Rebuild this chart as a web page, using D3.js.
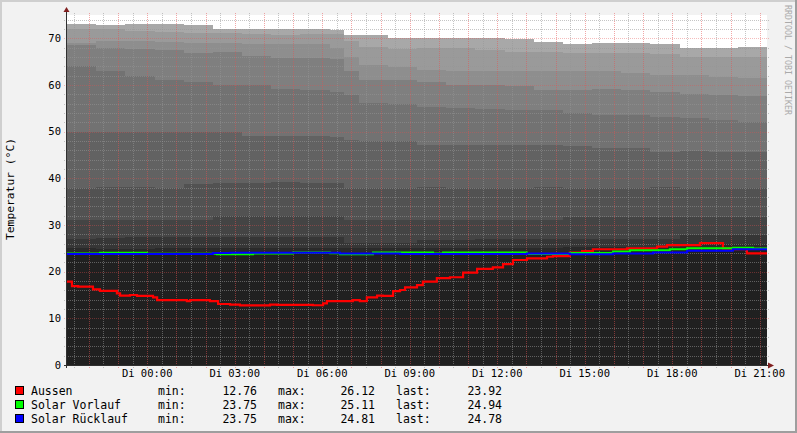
<!DOCTYPE html>
<html><head><meta charset="utf-8">
<script src="https://cdn.jsdelivr.net/npm/d3@7"></script>
<style>html,body{margin:0;padding:0;background:#f2f2f2;overflow:hidden}svg{display:block}</style>
</head><body>
<svg id="c" width="797" height="433"></svg>
<script>
// ---------- data ----------
const layerHours = [0,1,2,3,4,5,6,7,8,9,9.5,10,11,12,13,14,15,16,17,18,19,20,21,22,23,24];
const shade1  = [73.1,72.8,73.0,73.0,72.8,72.1,71.9,71.9,71.9,71.7,70.7,70.7,70.0,70.0,70.0,70.0,69.8,69.2,68.8,69.0,68.9,68.8,68.0,68.0,68.2,68.1];
const shade2  = [72.1,71.9,71.6,71.3,71.1,71.1,71.0,70.8,70.9,71.0,69.5,68.2,67.7,67.9,67.9,67.6,67.1,67.0,66.8,66.8,66.8,66.6,65.9,65.9,66.0,66.0];
const shade3  = [68.9,69.5,69.5,69.3,69.0,69.0,68.8,68.8,68.8,67.9,66.0,64.3,63.9,63.2,63.0,63.0,63.0,62.9,62.9,62.9,62.6,62.1,62.1,61.8,61.6,61.8];
const shade4  = [68.6,68.0,67.8,67.5,66.8,67.0,66.2,65.7,65.7,65.5,63.0,61.1,61.1,60.6,60.0,60.0,59.8,58.9,58.9,59.2,58.9,58.5,58.0,57.9,57.6,57.6];
const shade5  = [64.1,62.9,61.9,61.0,60.6,60.0,60.0,59.1,59.0,58.5,57.9,56.1,56.0,55.3,55.1,54.8,54.7,54.7,53.9,53.6,53.6,53.2,52.9,52.6,52.1,51.6];
const shade6  = [50.0,50.0,50.0,49.9,49.9,49.9,49.0,49.0,49.0,48.9,48.3,47.9,47.9,47.1,47.1,47.1,47.1,47.1,46.9,46.6,46.6,45.7,45.9,45.7,45.7,45.7];
const shade7  = [37.9,38.1,38.1,37.9,38.8,38.9,39.0,39.2,39.1,38.9,37.9,37.9,38.0,38.2,38.0,38.0,38.0,38.1,37.9,38.0,38.0,38.1,38.0,37.9,37.9,38.0];
const shade8  = [31.1,31.1,31.1,31.1,31.1,32.0,32.0,32.0,32.0,31.9,31.0,31.0,31.1,31.1,31.1,31.0,31.0,31.1,31.8,31.8,31.8,31.8,31.8,31.8,31.8,31.8];
const shade9  = [26.9,27.2,27.4,27.4,27.4,27.4,27.4,27.4,27.4,27.4,26.1,26.1,26.1,26.7,26.7,27.0,27.0,27.0,27.0,27.0,27.0,27.0,27.9,27.9,27.9,27.9];
const shade10 = [25.0,24.8,24.8,25.0,25.0,25.0,25.0,25.0,25.0,25.0,25.0,25.0,25.0,25.0,25.0,25.0,25.0,25.0,25.3,25.3,25.3,25.3,25.9,25.9,25.9,25.9];
const shade11 = [24.0,24.0,24.0,24.0,24.0,24.0,24.0,24.0,24.0,24.0,24.0,24.0,24.0,24.0,24.0,24.0,24.0,24.0,24.0,24.0,24.6,24.6,24.6,24.6,24.6,24.6];

const aussenHours  = [0,0.17,0.38,0.89,1.13,1.71,1.82,2.16,2.40,2.95,3.09,4.11,4.22,4.90,5.18,5.59,5.93,6.96,7.20,8.43,8.78,8.91,9.80,10.04,10.28,10.63,10.83,11.18,11.42,11.59,12.00,12.20,12.68,13.13,13.58,14.06,14.60,14.95,15.29,15.77,16.46,16.66,17.24,17.66,18.03,19.20,20.23,20.57,21.70,22.49,22.83,23.31,23.66,24];
const aussenValues = [17.85,16.9,16.8,16.2,15.9,15.35,14.85,15.0,14.8,14.5,13.9,13.7,13.9,13.7,13.07,12.93,12.76,12.95,12.9,12.8,13.2,13.7,13.9,13.7,14.5,14.85,14.8,15.85,16.07,16.65,17.1,17.85,18.6,18.8,19.8,20.6,20.9,21.6,22.5,22.85,23.2,23.35,24.06,24.4,24.8,25.0,25.36,25.7,26.12,25.0,24.8,23.9,23.92,23.92];
const vorlaufHours  = [0,1.13,2.74,5.14,6.38,7.75,9.02,9.36,10.49,12.55,12.89,15.77,17.24,18.72,19.30,20.67,21.26,22.83,23.52,24];
const vorlaufValues = [23.9,24.07,23.85,23.75,23.9,24.1,23.95,23.75,24.1,23.9,24.1,23.8,24.0,24.3,24.6,24.8,25.0,25.11,24.94,24.94];
const ruecklaufHours  = [0,5.0,5.59,9.36,11.42,15.77,17.24,18.72,20.09,21.26,22.83,23.66,24];
const ruecklaufValues = [23.8,24.0,24.05,23.9,23.8,23.9,23.75,23.9,24.1,24.5,24.81,24.78,24.78];

const legendNames = ["Aussen","Solar Vorlauf","Solar Rücklauf"];
const minVals  = ["12.76","23.75","23.75"];
const maxVals  = ["26.12","25.11","24.81"];
const lastVals = ["23.92","24.94","24.78"];
const yTicks = [0,10,20,30,40,50,60,70];

// ---------- styles ----------
const shades = [shade1,shade2,shade3,shade4,shade5,shade6,shade7,shade8,shade9,shade10,shade11];
const shadeColors = ["#a8a8a8","#9a9a9a","#8e8e8e","#7f7f7f","#727272","#626262","#525252","#444444","#363636","#2a2a2a","#202020"];
const lineColors = ["#ff0000","#00ff00","#0000ff"];
const FONT = "'DejaVu Sans Mono', monospace";

const start = new Date(2024,0,1,21,15);
const end = new Date(start.getTime() + 24*3600e3);
const tOf = h => new Date(start.getTime() + h*3600e3);

const x = d3.scaleTime().domain([start,end]).range([67,767]);
const y = d3.scaleLinear().domain([0,75]).range([365,15]);

const svg = d3.select("#c");
svg.append("rect").attr("width",797).attr("height",433).attr("fill","#f2f2f2");
svg.append("rect").attr("x",0).attr("y",0).attr("width",797).attr("height",2).attr("fill","#cfcfcf");
svg.append("rect").attr("x",0).attr("y",0).attr("width",2).attr("height",433).attr("fill","#cfcfcf");
svg.append("rect").attr("x",0).attr("y",431).attr("width",797).attr("height",2).attr("fill","#9e9e9e");
svg.append("rect").attr("x",795).attr("y",0).attr("width",2).attr("height",433).attr("fill","#9e9e9e");

svg.append("rect").attr("x",67).attr("y",15).attr("width",700).attr("height",350).attr("fill","#ffffff");

// layered areas
shades.forEach((arr,i)=>{
  const data = layerHours.map((h,j)=>[tOf(h),arr[j]]);
  const area = d3.area().x(d=>x(d[0])).y0(y(0)).y1(d=>y(d[1])).curve(d3.curveStepAfter);
  svg.append("path").datum(data).attr("d",area).attr("fill",shadeColors[i]).attr("shape-rendering","crispEdges");
});

// grid
const g = svg.append("g").attr("shape-rendering","crispEdges");
const MINOR = "rgba(150,150,150,0.55)", MAJOR = "rgba(230,80,80,0.38)";
for (let v=2; v<=74; v+=2){
  const yy = Math.round(y(v))+0.5;
  const major = v%10===0;
  g.append("line").attr("x1",64).attr("x2",770).attr("y1",yy).attr("y2",yy)
   .attr("stroke", major ? MAJOR : MINOR)
   .attr("stroke-dasharray","1,1").attr("stroke-width",1);
}
d3.timeMinute.every(30).range(start,end).forEach(t=>{
  const xx = Math.round(x(t))+0.5;
  const major = t.getMinutes()===0;
  g.append("line").attr("x1",xx).attr("x2",xx).attr("y1",13).attr("y2",368)
   .attr("stroke", major ? "rgba(230,80,80,0.5)" : MINOR)
   .attr("stroke-dasharray","1,1").attr("stroke-width",1);
});

// lines
const seriesH = [aussenHours,vorlaufHours,ruecklaufHours];
const seriesV = [aussenValues,vorlaufValues,ruecklaufValues];
const widths = [2.2,2,2];
seriesH.forEach((hs,i)=>{
  const data = hs.map((h,j)=>[tOf(h),seriesV[i][j]]);
  const line = d3.line().x(d=>x(d[0])).y(d=>y(d[1])).curve(d3.curveStepAfter);
  svg.append("path").datum(data).attr("d",line).attr("fill","none")
    .attr("stroke",lineColors[i]).attr("stroke-width",widths[i]);
});

// axes
svg.append("line").attr("x1",66.5).attr("x2",66.5).attr("y1",368).attr("y2",11).attr("stroke","#303030");
svg.append("line").attr("x1",64).attr("x2",769).attr("y1",365.5).attr("y2",365.5).attr("stroke","#303030");
svg.append("path").attr("d","M66.5,7 L63.5,12 L69.5,12 Z").attr("fill","#801f1f");
svg.append("path").attr("d","M774,365.5 L768,362.5 L768,368.5 Z").attr("fill","#801f1f");

// y labels
yTicks.forEach(v=>{
  svg.append("text").attr("x",61).attr("y",y(v)).attr("dy","0.35em").attr("text-anchor","end")
   .attr("font-family",FONT).attr("font-size","10.5px").attr("fill","#000").text(v);
});
// x labels
const fmt = d3.timeFormat("%H:%M");
const dayNames = ["So","Mo","Di","Mi","Do","Fr","Sa"];
d3.timeHour.every(3).range(start,end).forEach(t=>{
  svg.append("text").attr("x",x(t)).attr("y",377).attr("text-anchor","middle")
   .attr("font-family",FONT).attr("font-size","10.5px").attr("fill","#000")
   .text(dayNames[t.getDay()]+" "+fmt(t));
});

// y title
svg.append("text").attr("transform","translate(14,189) rotate(-90)").attr("text-anchor","middle")
  .attr("font-family",FONT).attr("font-size","11.3px").attr("fill","#000").text("Temperatur (°C)");

// watermark
svg.append("text").attr("transform","translate(785,5) rotate(90)").attr("text-anchor","start")
  .attr("font-family",FONT).attr("font-size","8.5px").attr("fill","#aaaaaa")
  .attr("textLength",110).attr("lengthAdjust","spacingAndGlyphs").text("RRDTOOL / TOBI OETIKER");

// legend
legendNames.forEach((n,i)=>{
  const by = 395 + i*14;
  svg.append("rect").attr("x",15.5).attr("y",by-8.5).attr("width",8).attr("height",8)
    .attr("fill",lineColors[i]).attr("stroke","#000").attr("stroke-width",1);
  const t = (txt,xx,anchor)=>svg.append("text").attr("x",xx).attr("y",by).attr("text-anchor",anchor)
    .attr("font-family",FONT).attr("font-size","11.5px").attr("fill","#000").text(txt);
  t(n,31,"start");
  t("min:",158,"start"); t(minVals[i],257,"end");
  t("max:",278,"start"); t(maxVals[i],375,"end");
  t("last:",396,"start"); t(lastVals[i],502,"end");
});
</script>
</body></html>
